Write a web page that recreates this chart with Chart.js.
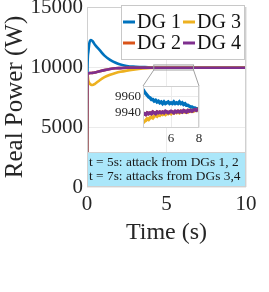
<!DOCTYPE html>
<html lang="en">
<head>
  <meta charset="UTF-8" />
  <title>Real Power</title>
  <script src="https://cdn.jsdelivr.net/npm/chart.js"></script>
  <style>
    * { margin: 0; padding: 0; box-sizing: border-box; }
    body { background: #fff; width: 269px; height: 292px; overflow: hidden; }
    .wrap { position: relative; width: 269px; height: 292px; }
    #mainChart { position: absolute; left: 0; top: 0; }
    #insetChart { position: absolute; left: 110px; top: 80px; }
  </style>
</head>
<body>
  <div class="wrap">
    <canvas id="mainChart" width="269" height="292"></canvas>
    <canvas id="insetChart" width="100" height="70"></canvas>
  </div>

  <script>
    // main plot (time in s, power in W)
    const timeMain = [0, 0.03, 0.08, 0.15, 0.25, 0.35, 0.5, 0.8, 1.1, 1.45, 1.8, 2.1, 2.5, 2.9, 3.5, 4, 5, 6, 7, 8, 10];
    const dg1Main = [0, 9800, 11200, 12000, 12250, 12150, 11850, 11400, 10950, 10600, 10350, 10200, 10090, 10030, 9995, 9968, 9954, 9952, 9951, 9945, 9945];
    const dg2Main = [0, 9450, 9480, 9490, 9500, 9510, 9550, 9650, 9740, 9830, 9890, 9910, 9938, 9942, 9942, 9939, 9940, 9940, 9941, 9943, 9943];
    const dg3Main = [0, 9400, 8900, 8650, 8520, 8500, 8600, 8900, 9150, 9350, 9500, 9600, 9700, 9780, 9880, 9929, 9938, 9940, 9941, 9943, 9943];
    const dg4Main = [0, 9450, 9480, 9490, 9500, 9510, 9550, 9650, 9740, 9830, 9890, 9910, 9938, 9942, 9942, 9939, 9940, 9940, 9941, 9943, 9943];

    // zoomed window t = 4..8 s
    const timeInset = [4.0, 4.1, 4.2, 4.3, 4.4, 4.5, 4.6, 4.7, 4.8, 4.9, 5.0, 5.1, 5.2, 5.3, 5.4, 5.5, 5.6, 5.7, 5.8, 5.9, 6.0,
                       6.1, 6.2, 6.3, 6.4, 6.5, 6.6, 6.7, 6.8, 6.9, 7.0, 7.1, 7.2, 7.3, 7.4, 7.5, 7.6, 7.7, 7.8, 7.9, 8.0];
    const dg1Inset = [9968, 9965, 9963, 9961, 9959, 9958, 9956, 9956, 9954, 9955, 9953, 9954, 9952, 9953, 9951, 9953, 9951, 9952, 9953, 9951, 9952,
                      9951, 9953, 9951, 9952, 9951, 9953, 9951, 9952, 9950, 9951, 9949, 9949, 9948, 9947, 9947, 9946, 9946, 9945, 9945, 9944];
    const dg2Inset = [9938, 9939, 9938, 9940, 9939, 9940, 9939, 9941, 9940, 9940, 9941, 9940, 9941, 9940, 9941, 9940, 9941, 9941, 9940, 9941, 9941,
                      9941, 9940, 9941, 9941, 9942, 9941, 9942, 9941, 9942, 9942, 9941, 9942, 9942, 9943, 9942, 9943, 9943, 9943, 9944, 9943];
    const dg3Inset = [9928, 9930, 9931, 9933, 9932, 9934, 9935, 9934, 9936, 9937, 9936, 9938, 9937, 9939, 9938, 9939, 9938, 9940, 9939, 9940, 9939,
                      9941, 9940, 9941, 9940, 9941, 9940, 9942, 9941, 9942, 9941, 9942, 9941, 9943, 9942, 9943, 9942, 9943, 9943, 9944, 9943];
    const dg4Inset = [9938, 9939, 9938, 9940, 9939, 9940, 9939, 9941, 9940, 9939, 9941, 9940, 9941, 9940, 9941, 9940, 9942, 9941, 9940, 9941, 9942,
                      9941, 9940, 9942, 9941, 9942, 9941, 9942, 9941, 9943, 9942, 9941, 9943, 9942, 9943, 9942, 9943, 9944, 9943, 9944, 9944];

    const seriesNames = ["DG 1", "DG 2", "DG 3", "DG 4"];
    const seriesColors = ["#0072BD", "#D95319", "#EDB120", "#7E2F8E"];
    const xTicksMain = [0, 5, 10];
    const yTicksMain = [0, 5000, 10000, 15000];
    const xTicksInset = [6, 8];
    const yTicksInset = [9940, 9960];
    const noteLines = ["t = 5s: attack from DGs 1, 2", "t = 7s: attacks from DGs 3,4"];

    const serif = "'Liberation Serif', 'Times New Roman', serif";
    const boxGray = "#d0d0d0";
    const gridGray = "#ebebeb";

    // where the inset sits on the page (its plot box, in page pixels)
    const insetPos = { left: 110, top: 80, padL: 33, padT: 6, padR: 11, padB: 22 };

    function toPoints(xs, ys) {
      return xs.map((x, i) => ({ x: x, y: ys[i] }));
    }

    const mainSeries = [dg1Main, dg2Main, dg3Main, dg4Main];
    const insetSeries = [dg1Inset, dg2Inset, dg3Inset, dg4Inset];

    const decorMain = {
      id: "decorMain",
      afterDatasetsDraw(chart) {
        const ctx = chart.ctx;
        const a = chart.chartArea;
        const xs = chart.scales.x, ys = chart.scales.y;
        ctx.save();

        // zoom window marker + connectors to the inset
        const zx1 = xs.getPixelForValue(4.2), zx2 = xs.getPixelForValue(6.7);
        const zy1 = ys.getPixelForValue(10170), zy2 = ys.getPixelForValue(9750);
        ctx.strokeStyle = "#a0a0a0";
        ctx.lineWidth = 1;
        ctx.strokeRect(zx1, zy1, zx2 - zx1, zy2 - zy1);
        const ix1 = insetPos.left + insetPos.padL;
        const ix2 = insetPos.left + 100 - insetPos.padR;
        const iy = insetPos.top + insetPos.padT;
        ctx.beginPath();
        ctx.moveTo(zx1, zy2); ctx.lineTo(ix1, iy);
        ctx.moveTo(zx2, zy2); ctx.lineTo(ix2, iy);
        ctx.stroke();

        // note box along the bottom
        const nTop = a.bottom - 35;
        ctx.fillStyle = "#abe7fa";
        ctx.fillRect(a.left, nTop, a.right - a.left, a.bottom - nTop);
        ctx.strokeStyle = boxGray;
        ctx.strokeRect(a.left + 0.5, nTop + 0.5, a.right - a.left - 1, a.bottom - nTop - 1);
        ctx.fillStyle = "#1a1a1a";
        ctx.font = "13.4px " + serif;
        ctx.textBaseline = "middle";
        ctx.textAlign = "left";
        ctx.fillText(noteLines[0], a.left + 2, nTop + 10);
        ctx.fillText(noteLines[1], a.left + 2, nTop + 24);

        // axes box
        ctx.strokeStyle = boxGray;
        ctx.strokeRect(a.left + 0.5, a.top + 0.5, a.right - a.left - 1, a.bottom - a.top - 1);

        // legend, two columns
        const lx = 121, ly = 5, lw = 123, lh = 54;
        ctx.fillStyle = "#fff";
        ctx.fillRect(lx, ly, lw, lh);
        ctx.strokeStyle = "#c8c8c8";
        ctx.strokeRect(lx + 0.5, ly + 0.5, lw, lh);
        ctx.font = "20px " + serif;
        ctx.lineWidth = 3;
        const order = [0, 2, 1, 3];
        order.forEach((s, k) => {
          const col = k % 2, row = Math.floor(k / 2);
          const x0 = lx + 2 + col * 60;
          const y0 = ly + 17 + row * 21;
          ctx.strokeStyle = seriesColors[s];
          ctx.beginPath();
          ctx.moveTo(x0, y0); ctx.lineTo(x0 + 12, y0);
          ctx.stroke();
          ctx.fillStyle = "#111";
          ctx.fillText(seriesNames[s], x0 + 14, y0 + 1);
        });
        ctx.restore();
      }
    };

    new Chart(document.getElementById("mainChart"), {
      type: "line",
      data: {
        datasets: mainSeries.map((ys, i) => ({
          label: seriesNames[i],
          data: toPoints(timeMain, ys),
          borderColor: seriesColors[i],
          borderWidth: 2.6,
          pointRadius: 0,
          cubicInterpolationMode: "monotone",
          fill: false,
          order: 3 - i   // later DGs drawn on top
        }))
      },
      options: {
        responsive: false,
        animation: false,
        layout: { padding: { left: 0, right: 23, top: 7, bottom: 0 } },
        plugins: { legend: { display: false }, tooltip: { enabled: false } },
        scales: {
          x: {
            type: "linear",
            min: 0, max: 10,
            afterBuildTicks: s => { s.ticks = xTicksMain.map(v => ({ value: v })); },
            afterFit: s => { s.height = 105; s.paddingLeft = 0; s.paddingRight = 0; },
            ticks: { color: "#262626", padding: 5, font: { family: serif, size: 21 }, callback: v => String(v) },
            grid: { color: gridGray, drawTicks: false },
            border: { display: false },
            title: { display: true, text: "Time (s)", color: "#262626", font: { family: serif, size: 24 }, padding: { top: 0, bottom: 45 } }
          },
          y: {
            min: 0, max: 15000,
            afterBuildTicks: s => { s.ticks = yTicksMain.map(v => ({ value: v })); },
            afterFit: s => { s.width = 87; s.paddingTop = 0; s.paddingBottom = 0; },
            ticks: { color: "#262626", padding: 4, font: { family: serif, size: 21 }, callback: v => String(v) },
            grid: { color: gridGray, drawTicks: false },
            border: { display: false },
            title: { display: true, text: "Real Power (W)", color: "#262626", font: { family: serif, size: 25 }, padding: 0 }
          }
        }
      },
      plugins: [decorMain]
    });

    const insetBg = {
      id: "insetBg",
      beforeDraw(chart) {
        const a = chart.chartArea;
        chart.ctx.save();
        chart.ctx.fillStyle = "#fff";
        chart.ctx.fillRect(a.left, a.top, a.right - a.left, a.bottom - a.top);
        chart.ctx.restore();
      },
      afterDraw(chart) {
        const a = chart.chartArea;
        chart.ctx.save();
        chart.ctx.strokeStyle = boxGray;
        chart.ctx.lineWidth = 1;
        chart.ctx.strokeRect(a.left + 0.5, a.top + 0.5, a.right - a.left - 1, a.bottom - a.top - 1);
        chart.ctx.restore();
      }
    };

    new Chart(document.getElementById("insetChart"), {
      type: "line",
      data: {
        datasets: insetSeries.map((ys, i) => ({
          label: seriesNames[i],
          data: toPoints(timeInset, ys),
          borderColor: seriesColors[i],
          borderWidth: 3.4,
          pointRadius: 0,
          tension: 0,
          fill: false,
          order: 3 - i
        }))
      },
      options: {
        responsive: false,
        animation: false,
        layout: { padding: { left: 0, right: insetPos.padR, top: insetPos.padT, bottom: 0 } },
        plugins: { legend: { display: false }, tooltip: { enabled: false } },
        scales: {
          x: {
            type: "linear",
            min: 4, max: 8,
            afterBuildTicks: s => { s.ticks = xTicksInset.map(v => ({ value: v })); },
            afterFit: s => { s.height = insetPos.padB; s.paddingLeft = 0; s.paddingRight = 0; },
            ticks: { color: "#262626", padding: 3, font: { family: serif, size: 13 } },
            grid: { color: gridGray, drawTicks: false },
            border: { display: false }
          },
          y: {
            min: 9922, max: 9972,
            afterBuildTicks: s => { s.ticks = yTicksInset.map(v => ({ value: v })); },
            afterFit: s => { s.width = insetPos.padL; s.paddingTop = 0; s.paddingBottom = 0; },
            ticks: { color: "#262626", padding: 2, font: { family: serif, size: 13 }, callback: v => String(v) },
            grid: { color: gridGray, drawTicks: false },
            border: { display: false }
          }
        }
      },
      plugins: [insetBg]
    });
  </script>
</body>
</html>
